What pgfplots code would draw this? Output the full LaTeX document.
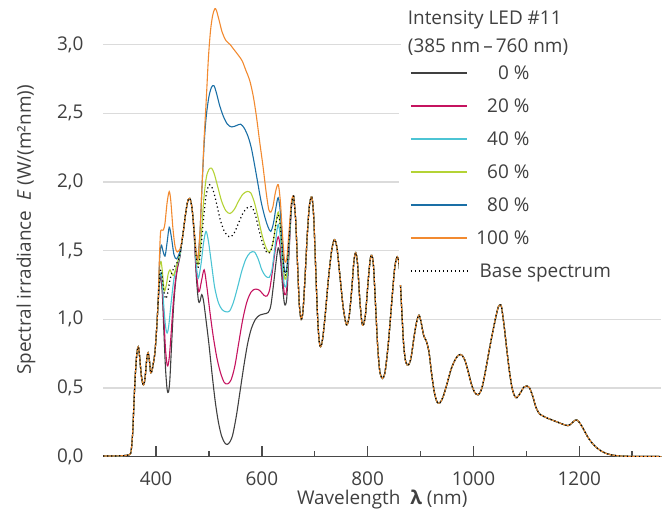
\documentclass[border=0pt]{standalone}
\usepackage{pgfplots}
\pgfplotsset{compat=1.18}
\usepackage{pgfplotstable}
\usepackage{fontspec}
\setmainfont{Open Sans}

\definecolor{cDark}{HTML}{404040}
\definecolor{cMag}{HTML}{C5135F}
\definecolor{cCyan}{HTML}{4CC4D4}
\definecolor{cGreen}{HTML}{B4D335}
\definecolor{cBlue}{HTML}{1A6FA6}
\definecolor{cOrange}{HTML}{F28A30}
\definecolor{txt}{HTML}{404040}

% common part below 404 nm
\pgfplotstableread{
x y
300 0.005
330 0.006
345 0.01
350 0.015
353 0.04
356 0.18
358 0.36
360.5 0.57
363.5 0.74
366.5 0.80
369 0.73
372 0.60
375 0.53
377.5 0.53
380 0.60
382.5 0.71
385 0.757
387.5 0.70
390 0.61
392.5 0.63
395 0.68
398 0.76
401 0.92
404 1.12
}\lead

% common part above 660 nm
\pgfplotstableread{
x y
660 1.90
664 1.72
668 1.35
671 1.10
674.5 1.00
678 1.07
682 1.33
686 1.62
690 1.83
694.5 1.89
698 1.75
701 1.45
705 1.05
708 0.86
711 0.80
715 0.86
720 1.04
726 1.30
732 1.50
737 1.58
742 1.52
748 1.30
754 1.08
760 0.96
765 1.02
770 1.22
774 1.42
777.5 1.485
781 1.40
785 1.15
789 0.98
792 0.96
796 1.04
801 1.28
805 1.44
808 1.465
811 1.39
815 1.10
819 0.80
823 0.62
828 0.57
833 0.62
839 0.82
845 1.10
851 1.37
856 1.455
860 1.38
864 1.10
868 0.82
872 0.69
877 0.667
882 0.72
888 0.88
893 0.99
897 1.03
901 0.98
906 0.88
911 0.84
916 0.76
921 0.60
926 0.47
931 0.40
936 0.39
942 0.43
950 0.53
958 0.64
966 0.71
972 0.74
978 0.74
984 0.70
990 0.62
996 0.53
1002 0.47
1009 0.45
1016 0.50
1023 0.63
1030 0.78
1037 0.92
1043 1.03
1047 1.09
1050 1.104
1053 1.09
1058 0.95
1063 0.78
1068 0.62
1073 0.50
1078 0.44
1082 0.43
1088 0.46
1095 0.505
1100 0.515
1106 0.50
1112 0.44
1118 0.36
1125 0.31
1132 0.295
1140 0.28
1150 0.265
1160 0.25
1170 0.235
1179 0.226
1186 0.245
1192 0.265
1196 0.267
1201 0.245
1208 0.20
1215 0.15
1222 0.11
1230 0.075
1240 0.045
1250 0.025
1262 0.012
1275 0.006
1290 0.003
1310 0.002
1355 0.001
}\tail

\pgfplotstableread{
x y
404 1.12
407 1.28
409.5 1.30
412 1.18
415 0.90
418 0.64
421 0.49
423.5 0.47
426 0.55
429 0.78
433 1.08
437 1.27
441 1.38
445 1.45
448 1.54
452 1.65
456 1.77
460 1.86
464 1.88
468 1.81
472 1.62
476 1.32
480 1.14
483 1.13
486.5 1.18
490 1.13
495 0.98
500 0.82
506 0.60
512 0.40
518 0.25
524 0.15
530 0.10
535 0.09
540 0.11
545 0.16
552 0.30
559 0.48
566 0.66
573 0.82
580 0.93
588 1.00
596 1.03
605 1.04
612 1.05
617 1.10
622 1.25
627 1.42
631 1.52
635 1.45
639 1.25
643 1.11
647 1.15
651 1.45
656 1.82
660 1.90
}\mDark

\pgfplotstableread{
x y
404 1.12
407 1.29
409.5 1.32
412 1.22
415 1.00
418 0.78
421.5 0.66
425 0.72
429 0.92
433 1.14
437 1.29
441 1.39
445 1.46
448 1.54
452 1.65
456 1.77
460 1.86
464 1.88
468 1.81
472 1.63
476 1.36
481 1.20
486 1.28
491 1.36
496 1.24
502 1.05
508 0.88
515 0.72
522 0.61
529 0.54
535.5 0.53
542 0.56
549 0.66
556 0.82
564 1.00
572 1.13
580 1.20
588 1.22
596 1.21
604 1.175
610 1.17
615 1.22
620 1.35
626 1.52
631 1.60
635 1.52
639 1.32
643 1.18
647 1.22
651 1.48
656 1.82
660 1.90
}\mMag

\pgfplotstableread{
x y
404 1.12
407 1.30
409.5 1.34
412 1.26
415 1.08
418 0.95
421 0.90
424 0.95
428 1.10
433 1.27
437 1.36
441 1.41
445 1.46
448 1.54
452 1.65
456 1.77
460 1.86
464 1.88
468 1.81
472 1.64
476 1.40
480 1.30
485 1.40
490 1.56
494.5 1.64
499 1.57
505 1.40
511 1.23
518 1.12
525 1.07
532 1.055
539 1.06
546 1.12
554 1.23
562 1.35
570 1.44
578 1.485
586 1.49
593 1.44
600 1.36
607 1.315
614 1.305
619 1.36
624 1.50
628 1.63
631 1.69
635 1.60
639 1.38
643 1.24
647 1.27
651 1.51
656 1.83
660 1.90
}\mCyan

\pgfplotstableread{
x y
404 1.12
407 1.38
409.5 1.42
412 1.35
415.5 1.21
419 1.24
423 1.33
426.5 1.36
430 1.33
433 1.32
437 1.36
441 1.42
445 1.48
448 1.54
452 1.65
456 1.77
460 1.86
464 1.88
468 1.81
472 1.65
476 1.46
480 1.40
485 1.58
490 1.86
495 2.03
500 2.09
505 2.10
510 2.06
517 1.96
524 1.86
532 1.79
540 1.77
548 1.80
556 1.86
564 1.91
572 1.93
579 1.92
586 1.85
593 1.74
600 1.62
607 1.53
613 1.49
618 1.51
623 1.60
627 1.71
631 1.78
635 1.68
639 1.47
643 1.30
647 1.33
651 1.54
656 1.83
660 1.90
}\mGreen

\pgfplotstableread{
x y
404 1.12
407 1.45
410 1.54
413 1.50
417 1.46
421 1.56
425 1.67
429 1.60
434 1.47
439 1.44
445 1.49
448 1.54
452 1.65
456 1.77
460 1.86
464 1.88
468 1.81
472 1.65
476 1.48
479 1.44
483 1.62
487 1.97
491 2.28
495 2.48
500 2.62
505 2.69
509.5 2.70
514 2.65
520 2.56
527 2.48
535 2.42
543 2.40
552 2.41
560 2.42
567 2.39
574 2.33
580 2.25
586 2.13
592 2.00
599 1.85
606 1.74
612 1.67
617 1.64
622 1.70
627 1.82
631 1.885
635 1.78
639 1.53
643 1.35
647 1.37
651 1.56
656 1.84
660 1.90
}\mBlue

\pgfplotstableread{
x y
404 1.12
406.5 1.45
408.5 1.63
411 1.65
414 1.65
417 1.70
421 1.85
425 1.93
428 1.86
432 1.66
436 1.53
440 1.49
445 1.51
448 1.55
452 1.65
456 1.77
460 1.86
464 1.88
468 1.81
472 1.65
476 1.48
479 1.44
483 1.63
487 1.97
491 2.32
495 2.60
499 2.90
503 3.10
507 3.21
511 3.26
514 3.25
519 3.18
525 3.09
532 3.03
540 3.00
548 2.96
556 2.92
563 2.88
570 2.81
577 2.74
584 2.62
590 2.47
596 2.29
602 2.12
608 1.93
613 1.80
617 1.78
621 1.82
626 1.93
631 1.98
635 1.86
639 1.62
643 1.43
647 1.44
651 1.62
656 1.86
660 1.90
}\mOrange

\pgfplotstableread{
x y
404 1.12
407 1.32
409.5 1.36
412 1.30
415 1.20
418.5 1.15
422 1.19
426 1.28
431 1.35
436 1.39
441 1.42
445 1.47
448 1.54
452 1.65
456 1.77
460 1.86
464 1.88
468 1.81
472 1.64
476 1.45
480 1.38
485 1.52
490 1.74
495 1.91
501 1.98
507 1.95
514 1.85
521 1.73
528 1.65
535 1.61
541 1.60
548 1.63
556 1.70
564 1.77
572 1.81
580 1.82
587 1.77
594 1.66
601 1.56
607 1.50
612 1.48
617 1.50
622 1.58
627 1.70
631 1.76
635 1.68
639 1.47
643 1.33
647 1.35
651 1.55
656 1.83
660 1.90
}\mBase

\begin{document}
\fontsize{19}{23}\selectfont
\begin{tikzpicture}
\useasboundingbox (0,0) rectangle (662bp,514bp);
\begin{axis}[
  at={(103.1bp,57.3bp)}, anchor=south west,
  scale only axis, width=558.2bp, height=453.4bp,
  xmin=300, xmax=1355, ymin=0, ymax=3.3,
  axis x line*=bottom, axis y line*=left,
  y axis line style={draw=none},
  x axis line style={draw=black!72, line width=1.3bp, -},
  xtick={400,600,...,1200}, minor xtick={500,700,...,1300},
  ytick={0,0.5,...,3},
  tick align=inside,
  major tick length=11bp, minor tick length=6bp,
  xtick style={draw=black!70, line width=1.5bp},
  ytick style={draw=none},
  ymajorgrids,
  major grid style={draw=black!14, line width=1.3bp},
  /pgf/number format/assume math mode=true,
  x tick label style={/pgf/number format/1000 sep={}, inner sep=0pt, yshift=-15bp, text=txt},
  y tick label style={/pgf/number format/.cd, fixed, fixed zerofill, precision=1, use comma, /tikz/.cd, inner sep=0pt, xshift=-19.5bp, text=txt},
  xlabel={Wavelength\ \ \textbf{λ} (nm)},
  ylabel={Spectral irradiance\ \ \textit{E} (W/(m²nm))},
  xlabel style={at={(axis description cs:0.5,0)}, anchor=base, yshift=-47.5bp, inner sep=0pt, text=txt},
  ylabel style={at={(axis description cs:-0.138,0.5)}, anchor=center, inner sep=0pt, text=txt},
  legend cell align=left,
  legend image code/.code={\draw[#1, line width=1.1bp] (0bp,0bp) -- (56.6bp,0bp);},
  legend style={at={(1,1)}, anchor=north east, yshift=-55bp,
    draw=none, fill=white, inner xsep=11bp, inner ysep=5bp,
    row sep=14bp, column sep=8.4bp,
    nodes={inner sep=0pt, text height=16bp, text depth=3bp, text=txt},
    font=\fontsize{19}{23}\selectfont},
  sp/.style={smooth, line width=1.1bp, mark=none},
]
\addplot[sp, cDark] table {\mDark}; \addlegendentry{\phantom{10}0~\%}
\addplot[sp, cDark, forget plot] table {\lead};
\addplot[sp, cDark, forget plot] table {\tail};
\addplot[sp, cMag] table {\mMag}; \addlegendentry{\phantom{1}20~\%}
\addplot[sp, cMag, forget plot] table {\lead};
\addplot[sp, cMag, forget plot] table {\tail};
\addplot[sp, cCyan] table {\mCyan}; \addlegendentry{\phantom{1}40~\%}
\addplot[sp, cCyan, forget plot] table {\lead};
\addplot[sp, cCyan, forget plot] table {\tail};
\addplot[sp, cGreen] table {\mGreen}; \addlegendentry{\phantom{1}60~\%}
\addplot[sp, cGreen, forget plot] table {\lead};
\addplot[sp, cGreen, forget plot] table {\tail};
\addplot[sp, cBlue] table {\mBlue}; \addlegendentry{\phantom{1}80~\%}
\addplot[sp, cBlue, forget plot] table {\lead};
\addplot[sp, cBlue, forget plot] table {\tail};
\addplot[sp, cOrange] table {\mOrange}; \addlegendentry{100~\%}
\addplot[sp, cOrange, forget plot] table {\lead};
\addplot[sp, cOrange, forget plot] table {\tail};
\addplot[sp, black, line width=1.2bp, dash pattern=on 1.2bp off 2.8bp] table {\mBase};
\addlegendentry{\makebox[173.7bp][l]{\hspace{3.3bp}Base spectrum}}
\addplot[sp, black, line width=1.2bp, dash pattern=on 1.2bp off 2.8bp, forget plot] table {\lead};
\addplot[sp, black, line width=1.2bp, dash pattern=on 1.2bp off 2.8bp, forget plot] table {\tail};
\end{axis}
\fill[white] (400.6bp,456bp) rectangle (662bp,514bp);
\node[anchor=base west, inner sep=0pt, text=txt] at (407.7bp,489.2bp) {Intensity LED \#11};
\node[anchor=base west, inner sep=0pt, text=txt] at (407.7bp,461.2bp) {(385 nm\,–\,760 nm)};
\end{tikzpicture}
\end{document}
